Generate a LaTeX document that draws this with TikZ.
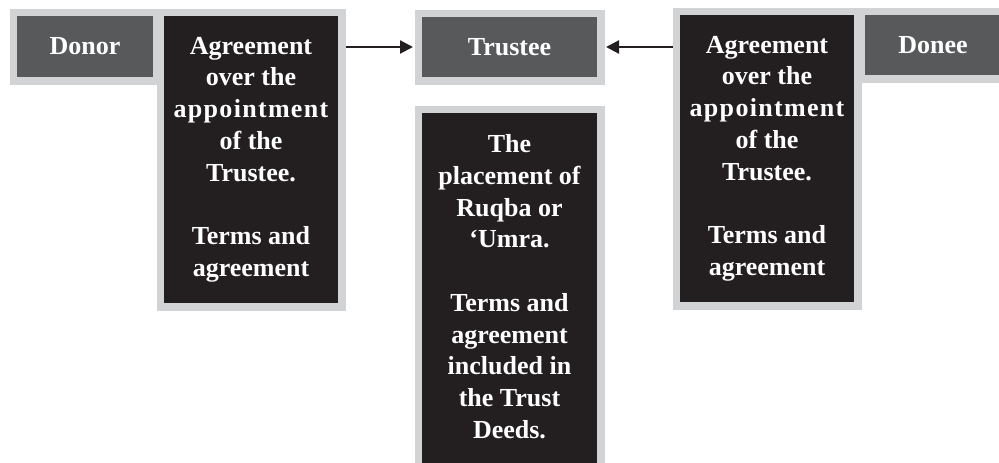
\documentclass[tikz,border=0pt]{standalone}
\usepackage{fontspec}
\setmainfont{Liberation Serif}[BoldFont={Liberation Serif Bold}]
\usetikzlibrary{arrows.meta}
\definecolor{framegray}{RGB}{209,211,212}
\definecolor{midgray}{RGB}{88,89,91}
\definecolor{nearblack}{RGB}{35,31,32}
\begin{document}
\begin{tikzpicture}[x=1pt,y=-1pt,
  box/.style={rectangle, inner sep=0pt, outer sep=7.5pt,
    preaction={draw=framegray, line width=15pt},
    text=white, font=\fontsize{26}{31.7}\selectfont\bfseries, align=center},
  graybox/.style={box, fill=midgray},
  blackbox/.style={box, fill=nearblack},
  txt/.style={inner sep=0pt, text=white, font=\fontsize{26}{31.7}\selectfont\bfseries, align=center},
  arr/.style={-{Triangle[length=13pt,width=13pt]}, line width=2.2pt, draw=nearblack, shorten >=1.5pt}]
\useasboundingbox (0,0) rectangle (999,463);
\node[graybox, minimum width=136pt, minimum height=61pt] (donor) at (85,46.5) {Donor};
\node[blackbox, minimum width=174pt, minimum height=287pt] (agreeL) at (251,159.5)
  {Agreement\\over the\\{\addfontfeatures{LetterSpace=5}appointment}\\of the\\Trustee.\\[31.7pt]Terms and\\agreement};
\node[graybox, minimum width=175pt, minimum height=60pt] (trustee) at (509.5,47) {Trustee};
\node[blackbox, minimum width=175pt, minimum height=380pt] (deed) at (509.5,303) {};
\node[txt] (deedtext) at (509.5,286.7)
  {The\\placement of\\Ruqba or\\‘Umra.\\[31.7pt]Terms and\\agreement\\included in\\the Trust\\Deeds.};
\node[blackbox, minimum width=174pt, minimum height=287pt] (agreeR) at (767,158.5)
  {Agreement\\over the\\{\addfontfeatures{LetterSpace=5}appointment}\\of the\\Trustee.\\[31.7pt]Terms and\\agreement};
\node[graybox, minimum width=136pt, minimum height=60pt] (donee) at (933,45) {Donee};
\draw[arr] (trustee.west -| agreeL.east) -- (trustee.west);
\draw[arr] (trustee.east -| agreeR.west) -- (trustee.east);
\end{tikzpicture}
\end{document}
